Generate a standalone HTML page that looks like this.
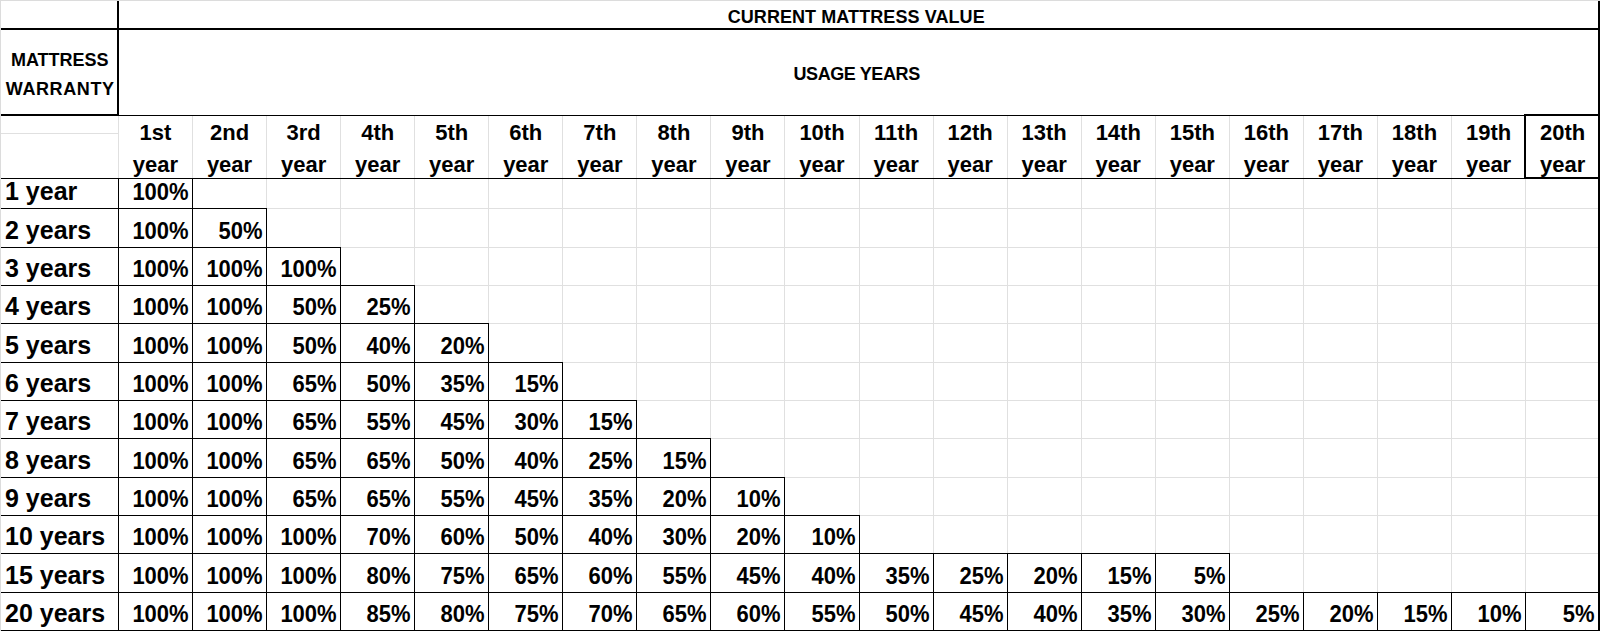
<!DOCTYPE html>
<html><head><meta charset="utf-8"><style>
html,body{margin:0;padding:0;background:#fff;}
body{width:1600px;height:631px;overflow:hidden;}
svg{display:block;}
text{font-family:"Liberation Sans", sans-serif;font-weight:bold;fill:#000;}
</style></head><body>
<svg width="1600" height="631" viewBox="0 0 1600 631" shape-rendering="crispEdges">
<rect x="0" y="0" width="1600" height="631" fill="#fff"/>
<rect x="0" y="0" width="1600" height="1" fill="#dcdcdc"/>
<rect x="0" y="0" width="1" height="631" fill="#dcdcdc"/>
<rect x="192" y="116" width="1" height="515" fill="#e0e0e0"/>
<rect x="266" y="116" width="1" height="515" fill="#e0e0e0"/>
<rect x="340" y="116" width="1" height="515" fill="#e0e0e0"/>
<rect x="414" y="116" width="1" height="515" fill="#e0e0e0"/>
<rect x="488" y="116" width="1" height="515" fill="#e0e0e0"/>
<rect x="562" y="116" width="1" height="515" fill="#e0e0e0"/>
<rect x="636" y="116" width="1" height="515" fill="#e0e0e0"/>
<rect x="710" y="116" width="1" height="515" fill="#e0e0e0"/>
<rect x="784" y="116" width="1" height="515" fill="#e0e0e0"/>
<rect x="859" y="116" width="1" height="515" fill="#e0e0e0"/>
<rect x="933" y="116" width="1" height="515" fill="#e0e0e0"/>
<rect x="1007" y="116" width="1" height="515" fill="#e0e0e0"/>
<rect x="1081" y="116" width="1" height="515" fill="#e0e0e0"/>
<rect x="1155" y="116" width="1" height="515" fill="#e0e0e0"/>
<rect x="1229" y="116" width="1" height="515" fill="#e0e0e0"/>
<rect x="1303" y="116" width="1" height="515" fill="#e0e0e0"/>
<rect x="1377" y="116" width="1" height="515" fill="#e0e0e0"/>
<rect x="1451" y="116" width="1" height="515" fill="#e0e0e0"/>
<rect x="1525" y="116" width="1" height="515" fill="#e0e0e0"/>
<rect x="1" y="133" width="117" height="1" fill="#e0e0e0"/>
<rect x="118" y="116" width="1" height="62" fill="#e0e0e0"/>
<rect x="119" y="208" width="1481" height="1" fill="#e0e0e0"/>
<rect x="119" y="247" width="1481" height="1" fill="#e0e0e0"/>
<rect x="119" y="285" width="1481" height="1" fill="#e0e0e0"/>
<rect x="119" y="323" width="1481" height="1" fill="#e0e0e0"/>
<rect x="119" y="362" width="1481" height="1" fill="#e0e0e0"/>
<rect x="119" y="400" width="1481" height="1" fill="#e0e0e0"/>
<rect x="119" y="438" width="1481" height="1" fill="#e0e0e0"/>
<rect x="119" y="477" width="1481" height="1" fill="#e0e0e0"/>
<rect x="119" y="515" width="1481" height="1" fill="#e0e0e0"/>
<rect x="119" y="553" width="1481" height="1" fill="#e0e0e0"/>
<rect x="119" y="592" width="1481" height="1" fill="#e0e0e0"/>
<rect x="117" y="1" width="2" height="115" fill="#000"/>
<rect x="1" y="28" width="1599" height="2" fill="#000"/>
<rect x="1" y="114" width="117" height="2" fill="#000"/>
<rect x="118" y="115" width="1482" height="1" fill="#000"/>
<rect x="1598" y="1" width="2" height="630" fill="#000"/>
<rect x="1524" y="114" width="2" height="65" fill="#000"/>
<rect x="1524" y="114" width="76" height="2" fill="#000"/>
<rect x="1524" y="177" width="76" height="2" fill="#000"/>
<rect x="1" y="178" width="1599" height="1" fill="#000"/>
<rect x="1" y="208" width="266" height="1" fill="#000"/>
<rect x="1" y="247" width="340" height="1" fill="#000"/>
<rect x="1" y="285" width="414" height="1" fill="#000"/>
<rect x="1" y="323" width="488" height="1" fill="#000"/>
<rect x="1" y="362" width="562" height="1" fill="#000"/>
<rect x="1" y="400" width="636" height="1" fill="#000"/>
<rect x="1" y="438" width="710" height="1" fill="#000"/>
<rect x="1" y="477" width="784" height="1" fill="#000"/>
<rect x="1" y="515" width="859" height="1" fill="#000"/>
<rect x="1" y="553" width="1229" height="1" fill="#000"/>
<rect x="1" y="592" width="1599" height="1" fill="#000"/>
<rect x="1" y="630" width="1599" height="1" fill="#000"/>
<rect x="118" y="178" width="1" height="31" fill="#000"/>
<rect x="192" y="178" width="1" height="31" fill="#000"/>
<rect x="118" y="208" width="1" height="40" fill="#000"/>
<rect x="192" y="208" width="1" height="40" fill="#000"/>
<rect x="266" y="208" width="1" height="40" fill="#000"/>
<rect x="118" y="247" width="1" height="39" fill="#000"/>
<rect x="192" y="247" width="1" height="39" fill="#000"/>
<rect x="266" y="247" width="1" height="39" fill="#000"/>
<rect x="340" y="247" width="1" height="39" fill="#000"/>
<rect x="118" y="285" width="1" height="39" fill="#000"/>
<rect x="192" y="285" width="1" height="39" fill="#000"/>
<rect x="266" y="285" width="1" height="39" fill="#000"/>
<rect x="340" y="285" width="1" height="39" fill="#000"/>
<rect x="414" y="285" width="1" height="39" fill="#000"/>
<rect x="118" y="323" width="1" height="40" fill="#000"/>
<rect x="192" y="323" width="1" height="40" fill="#000"/>
<rect x="266" y="323" width="1" height="40" fill="#000"/>
<rect x="340" y="323" width="1" height="40" fill="#000"/>
<rect x="414" y="323" width="1" height="40" fill="#000"/>
<rect x="488" y="323" width="1" height="40" fill="#000"/>
<rect x="118" y="362" width="1" height="39" fill="#000"/>
<rect x="192" y="362" width="1" height="39" fill="#000"/>
<rect x="266" y="362" width="1" height="39" fill="#000"/>
<rect x="340" y="362" width="1" height="39" fill="#000"/>
<rect x="414" y="362" width="1" height="39" fill="#000"/>
<rect x="488" y="362" width="1" height="39" fill="#000"/>
<rect x="562" y="362" width="1" height="39" fill="#000"/>
<rect x="118" y="400" width="1" height="39" fill="#000"/>
<rect x="192" y="400" width="1" height="39" fill="#000"/>
<rect x="266" y="400" width="1" height="39" fill="#000"/>
<rect x="340" y="400" width="1" height="39" fill="#000"/>
<rect x="414" y="400" width="1" height="39" fill="#000"/>
<rect x="488" y="400" width="1" height="39" fill="#000"/>
<rect x="562" y="400" width="1" height="39" fill="#000"/>
<rect x="636" y="400" width="1" height="39" fill="#000"/>
<rect x="118" y="438" width="1" height="40" fill="#000"/>
<rect x="192" y="438" width="1" height="40" fill="#000"/>
<rect x="266" y="438" width="1" height="40" fill="#000"/>
<rect x="340" y="438" width="1" height="40" fill="#000"/>
<rect x="414" y="438" width="1" height="40" fill="#000"/>
<rect x="488" y="438" width="1" height="40" fill="#000"/>
<rect x="562" y="438" width="1" height="40" fill="#000"/>
<rect x="636" y="438" width="1" height="40" fill="#000"/>
<rect x="710" y="438" width="1" height="40" fill="#000"/>
<rect x="118" y="477" width="1" height="39" fill="#000"/>
<rect x="192" y="477" width="1" height="39" fill="#000"/>
<rect x="266" y="477" width="1" height="39" fill="#000"/>
<rect x="340" y="477" width="1" height="39" fill="#000"/>
<rect x="414" y="477" width="1" height="39" fill="#000"/>
<rect x="488" y="477" width="1" height="39" fill="#000"/>
<rect x="562" y="477" width="1" height="39" fill="#000"/>
<rect x="636" y="477" width="1" height="39" fill="#000"/>
<rect x="710" y="477" width="1" height="39" fill="#000"/>
<rect x="784" y="477" width="1" height="39" fill="#000"/>
<rect x="118" y="515" width="1" height="39" fill="#000"/>
<rect x="192" y="515" width="1" height="39" fill="#000"/>
<rect x="266" y="515" width="1" height="39" fill="#000"/>
<rect x="340" y="515" width="1" height="39" fill="#000"/>
<rect x="414" y="515" width="1" height="39" fill="#000"/>
<rect x="488" y="515" width="1" height="39" fill="#000"/>
<rect x="562" y="515" width="1" height="39" fill="#000"/>
<rect x="636" y="515" width="1" height="39" fill="#000"/>
<rect x="710" y="515" width="1" height="39" fill="#000"/>
<rect x="784" y="515" width="1" height="39" fill="#000"/>
<rect x="859" y="515" width="1" height="39" fill="#000"/>
<rect x="118" y="553" width="1" height="40" fill="#000"/>
<rect x="192" y="553" width="1" height="40" fill="#000"/>
<rect x="266" y="553" width="1" height="40" fill="#000"/>
<rect x="340" y="553" width="1" height="40" fill="#000"/>
<rect x="414" y="553" width="1" height="40" fill="#000"/>
<rect x="488" y="553" width="1" height="40" fill="#000"/>
<rect x="562" y="553" width="1" height="40" fill="#000"/>
<rect x="636" y="553" width="1" height="40" fill="#000"/>
<rect x="710" y="553" width="1" height="40" fill="#000"/>
<rect x="784" y="553" width="1" height="40" fill="#000"/>
<rect x="859" y="553" width="1" height="40" fill="#000"/>
<rect x="933" y="553" width="1" height="40" fill="#000"/>
<rect x="1007" y="553" width="1" height="40" fill="#000"/>
<rect x="1081" y="553" width="1" height="40" fill="#000"/>
<rect x="1155" y="553" width="1" height="40" fill="#000"/>
<rect x="1229" y="553" width="1" height="40" fill="#000"/>
<rect x="118" y="592" width="1" height="39" fill="#000"/>
<rect x="192" y="592" width="1" height="39" fill="#000"/>
<rect x="266" y="592" width="1" height="39" fill="#000"/>
<rect x="340" y="592" width="1" height="39" fill="#000"/>
<rect x="414" y="592" width="1" height="39" fill="#000"/>
<rect x="488" y="592" width="1" height="39" fill="#000"/>
<rect x="562" y="592" width="1" height="39" fill="#000"/>
<rect x="636" y="592" width="1" height="39" fill="#000"/>
<rect x="710" y="592" width="1" height="39" fill="#000"/>
<rect x="784" y="592" width="1" height="39" fill="#000"/>
<rect x="859" y="592" width="1" height="39" fill="#000"/>
<rect x="933" y="592" width="1" height="39" fill="#000"/>
<rect x="1007" y="592" width="1" height="39" fill="#000"/>
<rect x="1081" y="592" width="1" height="39" fill="#000"/>
<rect x="1155" y="592" width="1" height="39" fill="#000"/>
<rect x="1229" y="592" width="1" height="39" fill="#000"/>
<rect x="1303" y="592" width="1" height="39" fill="#000"/>
<rect x="1377" y="592" width="1" height="39" fill="#000"/>
<rect x="1451" y="592" width="1" height="39" fill="#000"/>
<rect x="1525" y="592" width="1" height="39" fill="#000"/>
<rect x="1599" y="592" width="1" height="39" fill="#000"/>
<text x="856.20" y="23.00" font-size="18.0" text-anchor="middle" letter-spacing="0.08">CURRENT MATTRESS VALUE</text>
<text x="856.60" y="79.60" font-size="18.0" text-anchor="middle" letter-spacing="-0.4">USAGE YEARS</text>
<text x="59.80" y="66.40" font-size="18.0" text-anchor="middle">MATTRESS</text>
<text x="60.20" y="94.50" font-size="18.0" text-anchor="middle" letter-spacing="0.6">WARRANTY</text>
<text x="155.47" y="139.50" font-size="22.0" text-anchor="middle">1st</text>
<text x="155.47" y="171.50" font-size="22.0" text-anchor="middle">year</text>
<text x="229.53" y="139.50" font-size="22.0" text-anchor="middle">2nd</text>
<text x="229.53" y="171.50" font-size="22.0" text-anchor="middle">year</text>
<text x="303.59" y="139.50" font-size="22.0" text-anchor="middle">3rd</text>
<text x="303.59" y="171.50" font-size="22.0" text-anchor="middle">year</text>
<text x="377.65" y="139.50" font-size="22.0" text-anchor="middle">4th</text>
<text x="377.65" y="171.50" font-size="22.0" text-anchor="middle">year</text>
<text x="451.71" y="139.50" font-size="22.0" text-anchor="middle">5th</text>
<text x="451.71" y="171.50" font-size="22.0" text-anchor="middle">year</text>
<text x="525.77" y="139.50" font-size="22.0" text-anchor="middle">6th</text>
<text x="525.77" y="171.50" font-size="22.0" text-anchor="middle">year</text>
<text x="599.83" y="139.50" font-size="22.0" text-anchor="middle">7th</text>
<text x="599.83" y="171.50" font-size="22.0" text-anchor="middle">year</text>
<text x="673.89" y="139.50" font-size="22.0" text-anchor="middle">8th</text>
<text x="673.89" y="171.50" font-size="22.0" text-anchor="middle">year</text>
<text x="747.95" y="139.50" font-size="22.0" text-anchor="middle">9th</text>
<text x="747.95" y="171.50" font-size="22.0" text-anchor="middle">year</text>
<text x="822.01" y="139.50" font-size="22.0" text-anchor="middle">10th</text>
<text x="822.01" y="171.50" font-size="22.0" text-anchor="middle">year</text>
<text x="896.07" y="139.50" font-size="22.0" text-anchor="middle">11th</text>
<text x="896.07" y="171.50" font-size="22.0" text-anchor="middle">year</text>
<text x="970.13" y="139.50" font-size="22.0" text-anchor="middle">12th</text>
<text x="970.13" y="171.50" font-size="22.0" text-anchor="middle">year</text>
<text x="1044.19" y="139.50" font-size="22.0" text-anchor="middle">13th</text>
<text x="1044.19" y="171.50" font-size="22.0" text-anchor="middle">year</text>
<text x="1118.25" y="139.50" font-size="22.0" text-anchor="middle">14th</text>
<text x="1118.25" y="171.50" font-size="22.0" text-anchor="middle">year</text>
<text x="1192.31" y="139.50" font-size="22.0" text-anchor="middle">15th</text>
<text x="1192.31" y="171.50" font-size="22.0" text-anchor="middle">year</text>
<text x="1266.37" y="139.50" font-size="22.0" text-anchor="middle">16th</text>
<text x="1266.37" y="171.50" font-size="22.0" text-anchor="middle">year</text>
<text x="1340.43" y="139.50" font-size="22.0" text-anchor="middle">17th</text>
<text x="1340.43" y="171.50" font-size="22.0" text-anchor="middle">year</text>
<text x="1414.49" y="139.50" font-size="22.0" text-anchor="middle">18th</text>
<text x="1414.49" y="171.50" font-size="22.0" text-anchor="middle">year</text>
<text x="1488.55" y="139.50" font-size="22.0" text-anchor="middle">19th</text>
<text x="1488.55" y="171.50" font-size="22.0" text-anchor="middle">year</text>
<text x="1562.61" y="139.50" font-size="22.0" text-anchor="middle">20th</text>
<text x="1562.61" y="171.50" font-size="22.0" text-anchor="middle">year</text>
<text x="5.00" y="199.50" font-size="25.0" text-anchor="start">1 year</text>
<text transform="translate(188.60,200.00) scale(1,1.08)" font-size="22.0" text-anchor="end">100%</text>
<text x="5.00" y="238.50" font-size="25.0" text-anchor="start">2 years</text>
<text transform="translate(188.60,239.00) scale(1,1.08)" font-size="22.0" text-anchor="end">100%</text>
<text transform="translate(262.60,239.00) scale(1,1.08)" font-size="22.0" text-anchor="end">50%</text>
<text x="5.00" y="276.50" font-size="25.0" text-anchor="start">3 years</text>
<text transform="translate(188.60,277.00) scale(1,1.08)" font-size="22.0" text-anchor="end">100%</text>
<text transform="translate(262.60,277.00) scale(1,1.08)" font-size="22.0" text-anchor="end">100%</text>
<text transform="translate(336.60,277.00) scale(1,1.08)" font-size="22.0" text-anchor="end">100%</text>
<text x="5.00" y="314.50" font-size="25.0" text-anchor="start">4 years</text>
<text transform="translate(188.60,315.00) scale(1,1.08)" font-size="22.0" text-anchor="end">100%</text>
<text transform="translate(262.60,315.00) scale(1,1.08)" font-size="22.0" text-anchor="end">100%</text>
<text transform="translate(336.60,315.00) scale(1,1.08)" font-size="22.0" text-anchor="end">50%</text>
<text transform="translate(410.60,315.00) scale(1,1.08)" font-size="22.0" text-anchor="end">25%</text>
<text x="5.00" y="353.50" font-size="25.0" text-anchor="start">5 years</text>
<text transform="translate(188.60,354.00) scale(1,1.08)" font-size="22.0" text-anchor="end">100%</text>
<text transform="translate(262.60,354.00) scale(1,1.08)" font-size="22.0" text-anchor="end">100%</text>
<text transform="translate(336.60,354.00) scale(1,1.08)" font-size="22.0" text-anchor="end">50%</text>
<text transform="translate(410.60,354.00) scale(1,1.08)" font-size="22.0" text-anchor="end">40%</text>
<text transform="translate(484.60,354.00) scale(1,1.08)" font-size="22.0" text-anchor="end">20%</text>
<text x="5.00" y="391.50" font-size="25.0" text-anchor="start">6 years</text>
<text transform="translate(188.60,392.00) scale(1,1.08)" font-size="22.0" text-anchor="end">100%</text>
<text transform="translate(262.60,392.00) scale(1,1.08)" font-size="22.0" text-anchor="end">100%</text>
<text transform="translate(336.60,392.00) scale(1,1.08)" font-size="22.0" text-anchor="end">65%</text>
<text transform="translate(410.60,392.00) scale(1,1.08)" font-size="22.0" text-anchor="end">50%</text>
<text transform="translate(484.60,392.00) scale(1,1.08)" font-size="22.0" text-anchor="end">35%</text>
<text transform="translate(558.60,392.00) scale(1,1.08)" font-size="22.0" text-anchor="end">15%</text>
<text x="5.00" y="429.50" font-size="25.0" text-anchor="start">7 years</text>
<text transform="translate(188.60,430.00) scale(1,1.08)" font-size="22.0" text-anchor="end">100%</text>
<text transform="translate(262.60,430.00) scale(1,1.08)" font-size="22.0" text-anchor="end">100%</text>
<text transform="translate(336.60,430.00) scale(1,1.08)" font-size="22.0" text-anchor="end">65%</text>
<text transform="translate(410.60,430.00) scale(1,1.08)" font-size="22.0" text-anchor="end">55%</text>
<text transform="translate(484.60,430.00) scale(1,1.08)" font-size="22.0" text-anchor="end">45%</text>
<text transform="translate(558.60,430.00) scale(1,1.08)" font-size="22.0" text-anchor="end">30%</text>
<text transform="translate(632.60,430.00) scale(1,1.08)" font-size="22.0" text-anchor="end">15%</text>
<text x="5.00" y="468.50" font-size="25.0" text-anchor="start">8 years</text>
<text transform="translate(188.60,469.00) scale(1,1.08)" font-size="22.0" text-anchor="end">100%</text>
<text transform="translate(262.60,469.00) scale(1,1.08)" font-size="22.0" text-anchor="end">100%</text>
<text transform="translate(336.60,469.00) scale(1,1.08)" font-size="22.0" text-anchor="end">65%</text>
<text transform="translate(410.60,469.00) scale(1,1.08)" font-size="22.0" text-anchor="end">65%</text>
<text transform="translate(484.60,469.00) scale(1,1.08)" font-size="22.0" text-anchor="end">50%</text>
<text transform="translate(558.60,469.00) scale(1,1.08)" font-size="22.0" text-anchor="end">40%</text>
<text transform="translate(632.60,469.00) scale(1,1.08)" font-size="22.0" text-anchor="end">25%</text>
<text transform="translate(706.60,469.00) scale(1,1.08)" font-size="22.0" text-anchor="end">15%</text>
<text x="5.00" y="506.50" font-size="25.0" text-anchor="start">9 years</text>
<text transform="translate(188.60,507.00) scale(1,1.08)" font-size="22.0" text-anchor="end">100%</text>
<text transform="translate(262.60,507.00) scale(1,1.08)" font-size="22.0" text-anchor="end">100%</text>
<text transform="translate(336.60,507.00) scale(1,1.08)" font-size="22.0" text-anchor="end">65%</text>
<text transform="translate(410.60,507.00) scale(1,1.08)" font-size="22.0" text-anchor="end">65%</text>
<text transform="translate(484.60,507.00) scale(1,1.08)" font-size="22.0" text-anchor="end">55%</text>
<text transform="translate(558.60,507.00) scale(1,1.08)" font-size="22.0" text-anchor="end">45%</text>
<text transform="translate(632.60,507.00) scale(1,1.08)" font-size="22.0" text-anchor="end">35%</text>
<text transform="translate(706.60,507.00) scale(1,1.08)" font-size="22.0" text-anchor="end">20%</text>
<text transform="translate(780.60,507.00) scale(1,1.08)" font-size="22.0" text-anchor="end">10%</text>
<text x="5.00" y="544.50" font-size="25.0" text-anchor="start">10 years</text>
<text transform="translate(188.60,545.00) scale(1,1.08)" font-size="22.0" text-anchor="end">100%</text>
<text transform="translate(262.60,545.00) scale(1,1.08)" font-size="22.0" text-anchor="end">100%</text>
<text transform="translate(336.60,545.00) scale(1,1.08)" font-size="22.0" text-anchor="end">100%</text>
<text transform="translate(410.60,545.00) scale(1,1.08)" font-size="22.0" text-anchor="end">70%</text>
<text transform="translate(484.60,545.00) scale(1,1.08)" font-size="22.0" text-anchor="end">60%</text>
<text transform="translate(558.60,545.00) scale(1,1.08)" font-size="22.0" text-anchor="end">50%</text>
<text transform="translate(632.60,545.00) scale(1,1.08)" font-size="22.0" text-anchor="end">40%</text>
<text transform="translate(706.60,545.00) scale(1,1.08)" font-size="22.0" text-anchor="end">30%</text>
<text transform="translate(780.60,545.00) scale(1,1.08)" font-size="22.0" text-anchor="end">20%</text>
<text transform="translate(855.60,545.00) scale(1,1.08)" font-size="22.0" text-anchor="end">10%</text>
<text x="5.00" y="583.50" font-size="25.0" text-anchor="start">15 years</text>
<text transform="translate(188.60,584.00) scale(1,1.08)" font-size="22.0" text-anchor="end">100%</text>
<text transform="translate(262.60,584.00) scale(1,1.08)" font-size="22.0" text-anchor="end">100%</text>
<text transform="translate(336.60,584.00) scale(1,1.08)" font-size="22.0" text-anchor="end">100%</text>
<text transform="translate(410.60,584.00) scale(1,1.08)" font-size="22.0" text-anchor="end">80%</text>
<text transform="translate(484.60,584.00) scale(1,1.08)" font-size="22.0" text-anchor="end">75%</text>
<text transform="translate(558.60,584.00) scale(1,1.08)" font-size="22.0" text-anchor="end">65%</text>
<text transform="translate(632.60,584.00) scale(1,1.08)" font-size="22.0" text-anchor="end">60%</text>
<text transform="translate(706.60,584.00) scale(1,1.08)" font-size="22.0" text-anchor="end">55%</text>
<text transform="translate(780.60,584.00) scale(1,1.08)" font-size="22.0" text-anchor="end">45%</text>
<text transform="translate(855.60,584.00) scale(1,1.08)" font-size="22.0" text-anchor="end">40%</text>
<text transform="translate(929.60,584.00) scale(1,1.08)" font-size="22.0" text-anchor="end">35%</text>
<text transform="translate(1003.60,584.00) scale(1,1.08)" font-size="22.0" text-anchor="end">25%</text>
<text transform="translate(1077.60,584.00) scale(1,1.08)" font-size="22.0" text-anchor="end">20%</text>
<text transform="translate(1151.60,584.00) scale(1,1.08)" font-size="22.0" text-anchor="end">15%</text>
<text transform="translate(1225.60,584.00) scale(1,1.08)" font-size="22.0" text-anchor="end">5%</text>
<text x="5.00" y="621.50" font-size="25.0" text-anchor="start">20 years</text>
<text transform="translate(188.60,622.00) scale(1,1.08)" font-size="22.0" text-anchor="end">100%</text>
<text transform="translate(262.60,622.00) scale(1,1.08)" font-size="22.0" text-anchor="end">100%</text>
<text transform="translate(336.60,622.00) scale(1,1.08)" font-size="22.0" text-anchor="end">100%</text>
<text transform="translate(410.60,622.00) scale(1,1.08)" font-size="22.0" text-anchor="end">85%</text>
<text transform="translate(484.60,622.00) scale(1,1.08)" font-size="22.0" text-anchor="end">80%</text>
<text transform="translate(558.60,622.00) scale(1,1.08)" font-size="22.0" text-anchor="end">75%</text>
<text transform="translate(632.60,622.00) scale(1,1.08)" font-size="22.0" text-anchor="end">70%</text>
<text transform="translate(706.60,622.00) scale(1,1.08)" font-size="22.0" text-anchor="end">65%</text>
<text transform="translate(780.60,622.00) scale(1,1.08)" font-size="22.0" text-anchor="end">60%</text>
<text transform="translate(855.60,622.00) scale(1,1.08)" font-size="22.0" text-anchor="end">55%</text>
<text transform="translate(929.60,622.00) scale(1,1.08)" font-size="22.0" text-anchor="end">50%</text>
<text transform="translate(1003.60,622.00) scale(1,1.08)" font-size="22.0" text-anchor="end">45%</text>
<text transform="translate(1077.60,622.00) scale(1,1.08)" font-size="22.0" text-anchor="end">40%</text>
<text transform="translate(1151.60,622.00) scale(1,1.08)" font-size="22.0" text-anchor="end">35%</text>
<text transform="translate(1225.60,622.00) scale(1,1.08)" font-size="22.0" text-anchor="end">30%</text>
<text transform="translate(1299.60,622.00) scale(1,1.08)" font-size="22.0" text-anchor="end">25%</text>
<text transform="translate(1373.60,622.00) scale(1,1.08)" font-size="22.0" text-anchor="end">20%</text>
<text transform="translate(1447.60,622.00) scale(1,1.08)" font-size="22.0" text-anchor="end">15%</text>
<text transform="translate(1521.60,622.00) scale(1,1.08)" font-size="22.0" text-anchor="end">10%</text>
<text transform="translate(1594.60,622.00) scale(1,1.08)" font-size="22.0" text-anchor="end">5%</text>
</svg>
</body></html>
